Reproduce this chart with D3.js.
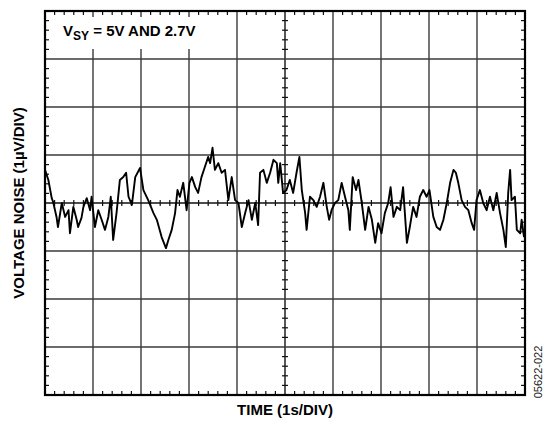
<!DOCTYPE html>
<html>
<head>
<meta charset="utf-8">
<script src="https://cdn.jsdelivr.net/npm/d3@7"></script>
<style>
  body { margin: 0; background: #fff; }
  text { font-family: "Liberation Sans", Arial, sans-serif; }
</style>
</head>
<body>
<div id="chart"></div>
<script>
// time in seconds (1 s/div), noise in uV (1 uV/div)
var times = [0.00,0.07,0.14,0.17,0.24,0.27,0.35,0.42,0.49,0.52,0.59,0.66,0.69,0.76,0.80,0.87,0.94,0.97,
  1.04,1.11,1.18,1.25,1.32,1.37,1.42,1.49,1.56,1.63,1.69,1.74,1.81,1.88,1.98,2.05,2.15,2.26,2.33,2.43,
  2.52,2.57,2.64,2.71,2.76,2.81,2.88,2.95,3.01,3.06,3.13,3.19,3.26,3.33,3.40,3.44,3.49,3.54,3.61,3.68,
  3.75,3.82,3.89,3.96,4.03,4.10,4.17,4.24,4.31,4.38,4.44,4.48,4.55,4.62,4.69,4.76,4.83,4.86,4.90,4.96,
  5.03,5.10,5.17,5.24,5.30,5.35,5.42,5.45,5.52,5.59,5.66,5.73,5.80,5.87,5.92,5.97,6.04,6.11,6.18,6.25,
  6.32,6.35,6.41,6.48,6.53,6.60,6.67,6.74,6.81,6.88,6.94,7.01,7.08,7.15,7.20,7.26,7.33,7.40,7.46,7.54,
  7.60,7.67,7.74,7.81,7.88,7.95,8.01,8.09,8.16,8.23,8.30,8.37,8.44,8.51,8.56,8.61,8.68,8.75,8.82,8.89,
  8.94,8.99,9.06,9.13,9.20,9.27,9.34,9.41,9.48,9.55,9.60,9.65,9.69,9.72,9.79,9.83,9.90,9.93,9.98];
var noise = [0.69,0.48,0.10,0.02,-0.29,-0.50,0.00,-0.29,-0.15,-0.63,-0.08,-0.35,-0.50,-0.31,-0.08,0.10,-0.15,0.13,
  -0.50,-0.15,-0.35,-0.56,-0.29,0.13,-0.77,-0.21,0.48,0.54,0.63,0.13,-0.04,0.54,0.73,0.27,0.06,-0.21,-0.35,-0.71,
  -0.94,-0.77,-0.56,-0.21,0.27,0.13,0.42,-0.15,0.42,0.54,0.33,0.21,0.54,0.75,0.96,0.83,1.15,0.69,0.83,0.63,
  0.69,0.06,0.54,0.06,0.00,-0.50,-0.21,0.06,-0.35,0.00,-0.46,0.63,0.69,0.42,0.63,0.90,0.83,0.42,0.83,0.21,
  0.27,0.48,0.21,0.63,0.96,0.27,-0.21,-0.56,0.13,0.06,-0.08,0.13,0.42,-0.08,-0.35,-0.15,0.00,0.06,0.42,0.13,
  -0.15,-0.56,0.54,0.27,0.48,0.00,-0.56,-0.08,-0.35,-0.83,-0.42,-0.63,-0.21,0.00,0.33,-0.29,-0.08,-0.15,0.33,-0.83,
  -0.50,-0.08,-0.29,0.13,0.27,0.13,0.27,-0.29,-0.50,-0.56,-0.35,0.00,0.42,0.69,0.63,0.42,0.06,-0.08,-0.15,-0.42,
  -0.56,0.06,0.27,0.00,-0.15,0.13,-0.15,0.21,-0.21,-0.56,-0.92,0.21,0.69,0.06,0.13,-0.56,-0.63,-0.35,-0.71];

var xDomain = [0, 10],
    yDomain = [-4, 4];

var width = 546,
    height = 425;

var svg = d3.select("#chart").append("svg")
  .attr("width", width)
  .attr("height", height);

var x = d3.scaleLinear().domain(xDomain).range([45, 525]);
var y = d3.scaleLinear().domain(yDomain).range([395, 11]);

var majorX = d3.range(0, 10.001, 1),
    majorY = d3.range(-4, 4.001, 1),
    minorX = d3.range(0, 10.001, 0.2),
    minorY = d3.range(-4, 4.001, 0.2);

// grid
svg.append("g").selectAll("line")
  .data(majorX.slice(1, -1))
  .enter().append("line")
  .attr("x1", d => x(d)).attr("x2", d => x(d))
  .attr("y1", y(4)).attr("y2", y(-4))
  .attr("stroke", d => d === 5 ? "#111" : "#3a3a3a")
  .attr("stroke-width", 1.4);

svg.append("g").selectAll("line")
  .data(majorY.slice(1, -1))
  .enter().append("line")
  .attr("y1", d => y(d)).attr("y2", d => y(d))
  .attr("x1", x(0)).attr("x2", x(10))
  .attr("stroke", d => d === 0 ? "#111" : "#3a3a3a")
  .attr("stroke-width", 1.4);

// white box behind the condition label
svg.append("rect")
  .attr("x", x(0) + 2).attr("y", y(4) + 6)
  .attr("width", 170).attr("height", 32)
  .attr("fill", "#fff");

// minor ticks on frame and centre cross
var ticks = svg.append("g").attr("stroke", "#111").attr("stroke-width", 1.2);
minorX.forEach(function(d) {
  if (Math.abs(d - Math.round(d)) < 1e-6) return;
  ticks.append("line").attr("x1", x(d)).attr("x2", x(d)).attr("y1", y(4)).attr("y2", y(4) + 4);
  ticks.append("line").attr("x1", x(d)).attr("x2", x(d)).attr("y1", y(-4)).attr("y2", y(-4) - 4);
  ticks.append("line").attr("x1", x(d)).attr("x2", x(d)).attr("y1", y(0) - 3).attr("y2", y(0) + 3);
});
minorY.forEach(function(d) {
  if (Math.abs(d - Math.round(d)) < 1e-6) return;
  ticks.append("line").attr("y1", y(d)).attr("y2", y(d)).attr("x1", x(0)).attr("x2", x(0) + 4);
  ticks.append("line").attr("y1", y(d)).attr("y2", y(d)).attr("x1", x(10)).attr("x2", x(10) - 4);
  ticks.append("line").attr("y1", y(d)).attr("y2", y(d)).attr("x1", x(5) - 3).attr("x2", x(5) + 3);
});

// trace
var line = d3.line()
  .x(function(d, i) { return x(times[i]); })
  .y(function(d) { return y(d); });

svg.append("path")
  .datum(noise)
  .attr("d", line)
  .attr("fill", "none")
  .attr("stroke", "#000")
  .attr("stroke-width", 1.9)
  .attr("stroke-linejoin", "round");

// frame
svg.append("rect")
  .attr("x", x(0)).attr("y", y(4))
  .attr("width", x(10) - x(0)).attr("height", y(-4) - y(4))
  .attr("fill", "none")
  .attr("stroke", "#000")
  .attr("stroke-width", 2.2);

// labels
var vsy = svg.append("text")
  .attr("x", 63).attr("y", 36)
  .style("font-size", "15px").style("font-weight", "bold");
vsy.append("tspan").text("V");
vsy.append("tspan").attr("dy", 4).style("font-size", "12px").text("SY");
vsy.append("tspan").attr("dy", -4).text(" = 5V AND 2.7V");

svg.append("text")
  .attr("transform", "translate(24," + y(0) + ") rotate(-90)")
  .attr("text-anchor", "middle")
  .style("font-size", "15px").style("font-weight", "bold")
  .text("VOLTAGE NOISE (1µV/DIV)");

svg.append("text")
  .attr("x", x(5)).attr("y", 415)
  .attr("text-anchor", "middle")
  .style("font-size", "15px").style("font-weight", "bold")
  .text("TIME (1s/DIV)");

svg.append("text")
  .attr("transform", "translate(542,372) rotate(-90)")
  .attr("text-anchor", "middle")
  .style("font-size", "11px")
  .attr("fill", "#222")
  .text("05622-022");
</script>
</body>
</html>
